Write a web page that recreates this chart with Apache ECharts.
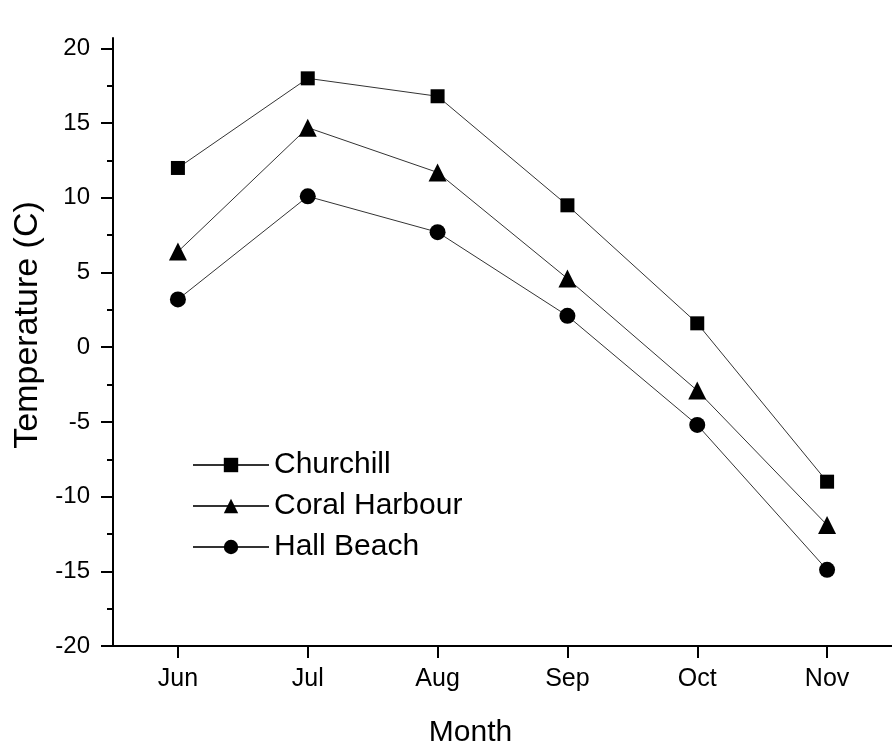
<!DOCTYPE html>
<html>
<head>
<meta charset="utf-8">
<script src="https://cdn.jsdelivr.net/npm/echarts@6/dist/echarts.min.js"></script>
<style>
  html, body { margin: 0; padding: 0; background: #fff; }
  #chart { width: 892px; height: 744px; }
</style>
</head>
<body>
<div id="chart"></div>
<script>
// data
const months = ['Jun', 'Jul', 'Aug', 'Sep', 'Oct', 'Nov']
const churchill = [12.0, 18.0, 16.8, 9.5, 1.6, -9.0]
const coralHarbour = [6.4, 14.7, 11.7, 4.6, -2.9, -11.9]
const hallBeach = [3.2, 10.1, 7.7, 2.1, -5.2, -14.9]
const yMajorTicks = [-20, -15, -10, -5, 0, 5, 10, 15, 20]
const yMinorTicks = [-17.5, -12.5, -7.5, -2.5, 2.5, 7.5, 12.5, 17.5]

const chart = echarts.init(document.getElementById('chart'))

const font = 'Liberation Sans, Arial, sans-serif'

// shared style for each line series
function lineSeries(name, data, symbol, size) {
  return {
    name: name,
    type: 'line',
    data: data,
    symbol: symbol,
    symbolSize: size,
    lineStyle: { color: '#333', width: 1 },
    itemStyle: { color: '#000' },
    emphasis: { disabled: true },
  }
}

const option = {
  animation: false,
  grid: { left: 113, right: 0, top: 38, bottom: 98, outerBoundsMode: 'none', containLabel: false },
  legend: {
    left: 187,
    top: 445,
    orient: 'vertical',
    itemWidth: 76,
    itemHeight: 18,
    itemGap: 11,
    textStyle: { fontFamily: font, fontSize: 30, lineHeight: 30, color: '#000' },
    data: ['Churchill', 'Coral Harbour', 'Hall Beach'],
  },
  xAxis: {
    type: 'category',
    data: months,
    name: 'Month',
    nameLocation: 'middle',
    nameGap: 72,
    nameTextStyle: { fontFamily: font, fontSize: 30, color: '#000', padding: [0, 64, 0, 0] },
    axisLine: { show: true, onZero: false, lineStyle: { color: '#000', width: 2 } },
    axisTick: { show: true, inside: false, alignWithLabel: true, length: 12, lineStyle: { color: '#000', width: 2 } },
    axisLabel: { fontFamily: font, fontSize: 25, color: '#000', margin: 21 },
    splitLine: { show: false },
  },
  yAxis: [
    {
      type: 'value',
      min: -20,
      max: 20.7,
      name: 'Temperature (C)',
      nameLocation: 'middle',
      nameGap: 64,
      nameTextStyle: { fontFamily: font, fontSize: 34, color: '#000', padding: [0, 0, 0, 34] },
      axisLine: { show: true, onZero: false, lineStyle: { color: '#000', width: 2 } },
      axisTick: { show: true, inside: false, length: 12, customValues: yMajorTicks, lineStyle: { color: '#000', width: 2 } },
      axisLabel: { fontFamily: font, fontSize: 24, color: '#000', margin: 23, customValues: yMajorTicks },
      splitLine: { show: false },
    },
    {
      type: 'value',
      min: -20,
      max: 20.7,
      position: 'left',
      axisLine: { show: false, onZero: false },
      axisTick: { show: true, inside: false, length: 6, customValues: yMinorTicks, lineStyle: { color: '#000', width: 2 } },
      axisLabel: { show: false },
      splitLine: { show: false },
    },
  ],
  series: [
    lineSeries('Churchill', churchill, 'rect', 14),
    lineSeries('Coral Harbour', coralHarbour, 'triangle', 18),
    lineSeries('Hall Beach', hallBeach, 'circle', 16),
  ],
}

chart.setOption(option)
</script>
</body>
</html>
